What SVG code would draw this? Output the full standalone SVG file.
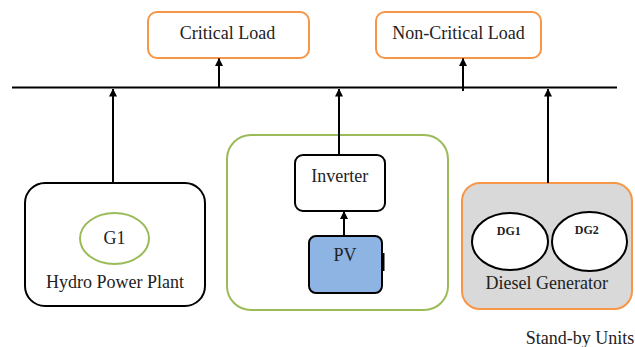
<svg xmlns="http://www.w3.org/2000/svg" width="635" height="347" viewBox="0 0 635 347">
<defs>
<marker id="ah" viewBox="0 0 8 8" refX="7.5" refY="4" markerWidth="8" markerHeight="8" markerUnits="userSpaceOnUse" orient="auto">
<path d="M0,0 L8,4 L0,8 Z" fill="#000"/>
</marker>
</defs>
<style>
text{font-family:'Liberation Serif','Times New Roman',serif;font-size:18px;fill:#222;text-anchor:middle}
.orange{fill:#fff;stroke:#F79646;stroke-width:2}
.blk{fill:#fff;stroke:#000;stroke-width:2}
.conn{stroke:#000;stroke-width:2;fill:none}
.sm{font-size:12px;font-weight:bold}
</style>
<rect width="635" height="347" fill="#fff"/>
<g id="critical-load">
<rect class="orange" x="148" y="12" width="161" height="46" rx="9"/>
<text x="227.5" y="38.5">Critical Load</text>
</g>
<g id="non-critical-load">
<rect class="orange" x="376" y="12" width="165" height="46" rx="9"/>
<text x="458.5" y="38.5">Non-Critical Load</text>
</g>
<g id="hydro">
<rect class="blk" x="25" y="183" width="180" height="123" rx="20"/>
<ellipse cx="114.5" cy="238.5" rx="34.5" ry="25.5" fill="#fff" stroke="#9BBB59" stroke-width="2"/>
<text x="114.5" y="244">G1</text>
<text x="115" y="288">Hydro Power Plant</text>
</g>
<g id="pv-group">
<rect x="227" y="135" width="221" height="175" rx="24" fill="#fff" stroke="#9BBB59" stroke-width="2"/>
</g>
<g id="inverter">
<rect class="blk" x="295" y="155" width="90" height="56" rx="8"/>
<text x="339.7" y="181.7">Inverter</text>
</g>
<g id="pv">
<rect x="309" y="236" width="73" height="57" rx="7" fill="#8EB4E3" stroke="#000" stroke-width="2"/>
<rect x="382" y="253" width="2.5" height="18" fill="#000"/>
<text x="345" y="261">PV</text>
</g>
<g id="diesel">
<rect x="462" y="183" width="170" height="126" rx="18" fill="#D9D9D9" stroke="#F79646" stroke-width="2"/>
<ellipse cx="510" cy="241.5" rx="38" ry="28.5" class="blk"/>
<ellipse cx="589.5" cy="241.5" rx="37.5" ry="29.5" class="blk"/>
<text class="sm" x="508.8" y="235">DG1</text>
<text class="sm" x="586.8" y="233.5">DG2</text>
<text x="546.7" y="289">Diesel Generator</text>
</g>
<g id="standby-label">
<text x="580" y="344">Stand-by Units</text>
</g>
<g id="connectors">
<line class="conn" x1="12" y1="87.5" x2="617" y2="87.5"/>
<line class="conn" x1="219" y1="87" x2="219" y2="58.5" marker-end="url(#ah)"/>
<line class="conn" x1="463" y1="91" x2="463" y2="58.5" marker-end="url(#ah)"/>
<line class="conn" x1="113" y1="183" x2="113" y2="89" marker-end="url(#ah)"/>
<line class="conn" x1="339" y1="155" x2="339" y2="89" marker-end="url(#ah)"/>
<line class="conn" x1="548" y1="183" x2="548" y2="89" marker-end="url(#ah)"/>
<line class="conn" x1="344" y1="236" x2="344" y2="211.5" marker-end="url(#ah)"/>
</g>
</svg>
